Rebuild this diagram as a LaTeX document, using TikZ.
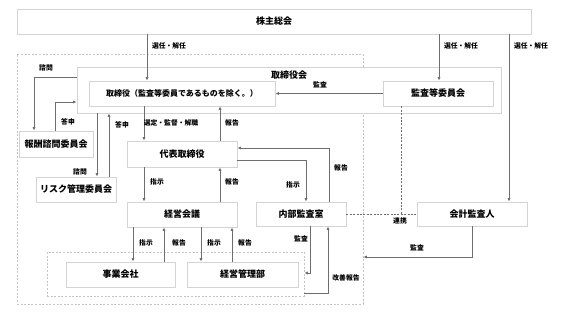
\documentclass[tikz,border=0pt]{standalone}
\usepackage{fontspec}
\setmainfont{Noto Sans CJK JP}
\usetikzlibrary{arrows.meta,calc}
\definecolor{boxgray}{HTML}{D4D4D4}
\definecolor{linegray}{HTML}{6E6E6E}
\definecolor{dashgray}{HTML}{C4C4C4}
\tikzset{
  box/.style={draw=boxgray, line width=0.9pt, fill=white, inner sep=0pt,
    font=\fontsize{9}{9}\selectfont\bfseries},
  dbox/.style={draw=dashgray, line width=0.8pt, dash pattern=on 2pt off 1.6pt, inner sep=0pt},
  lbl/.style={font=\fontsize{6.8}{7}\selectfont\bfseries, inner sep=0pt},
  arr/.style={draw=linegray, line width=0.8pt, -{Latex[length=3.4pt,width=3.2pt]}},
  dline/.style={draw=linegray, line width=0.8pt, dash pattern=on 2pt off 1.4pt},
}
\begin{document}
\begin{tikzpicture}[x=1pt,y=-1pt]
\useasboundingbox[fill=white] (0,0) rectangle (573,312);
% helper coordinates
\foreach \n/\v in {c34/34,c55/55,c97/97,c109/109,c133/133,c144/144,c147/147,c164/164,c201/201,c220/220,c232/232,c306/306,c310/310,c328/328,c329/329,c401/401,c439/439,c509/509}
  {\coordinate (\n) at (\v,0);}
\foreach \n/\v in {r77/77,r102/102,r148/148,r160/160,r257/257,r273/273,r293/293}
  {\coordinate (\n) at (0,\v);}

% frames
\node[box, minimum width=514pt, minimum height=25pt] (kabu) at (274,21.5) {株主総会};
\node[dbox, minimum width=346pt, minimum height=250pt] (outer) at (190,179) {};
\node[box, minimum width=424pt, minimum height=46pt] (torikai) at (289,90) {};
\node[font=\fontsize{9}{9}\selectfont\bfseries, inner sep=0pt] (torikaiT) at (289,75) {取締役会};
\node[dbox, minimum width=257pt, minimum height=44pt] (inner) at (175.5,274) {};

% boxes
\node[box, minimum width=186pt, minimum height=25pt, font=\fontsize{8}{8}\selectfont\bfseries] (tori) at (182,93.5) {取締役（監査等委員であるものを除く。）};
\node[box, minimum width=110pt, minimum height=25pt] (kansa) at (438,93.5) {監査等委員会};
\node[box, minimum width=74pt, minimum height=26pt] (houshu) at (56,144) {報酬諮問委員会};
\node[box, minimum width=80pt, minimum height=25pt] (risk) at (76,189.5) {リスク管理委員会};
\node[box, minimum width=110pt, minimum height=26pt] (daihyo) at (182,154) {代表取締役};
\node[box, minimum width=110pt, minimum height=25pt] (keiei) at (182,214.5) {経営会議};
\node[box, minimum width=90pt, minimum height=24pt] (naibu) at (301,214) {内部監査室};
\node[box, minimum width=110pt, minimum height=24pt] (kaikei) at (472,214) {会計監査人};
\node[box, minimum width=109pt, minimum height=25pt] (jigyo) at (120.5,274.5) {事業会社};
\node[box, minimum width=111pt, minimum height=25pt] (kanri) at (242.5,274.5) {経営管理部};

% shareholders
\draw[arr] (kabu.south -| c147) -- (tori.north -| c147);
\node[lbl] (l1) at (169,46) {選任・解任};
\draw[arr] (kabu.south -| c439) -- (kansa.north -| c439);
\node[lbl] (l2) at (461,46) {選任・解任};
\draw[arr] (kabu.south -| c509) -- (kaikei.north -| c509);
\node[lbl] (l3) at (531,46) {選任・解任};

% audit committee -> directors
\draw[arr] (kansa.west) -- (tori.east);
\node[lbl] (l4) at (320,85) {監査};

% compensation committee
\draw[arr] (torikai.west |- r77) -| (houshu.north -| c34);
\node[lbl] (l5) at (46,68) {諮問};
\draw[arr] (houshu.north -| c55) |- (torikai.west |- r102);
\node[lbl] (l6) at (68,122) {答申};

% risk committee
\draw[arr] (torikai.south -| c97) -- (risk.north -| c97);
\node[lbl] (l7) at (80,172) {諮問};
\draw[arr] (risk.north -| c109) -- (torikai.south -| c109);
\node[lbl] (l8) at (122,125) {答申};

% directors <-> representative
\draw[arr] (tori.south -| c144) -- (daihyo.north -| c144);
\node[lbl] (l9) at (171,123) {選定・監督・解職};
\draw[arr] (daihyo.north -| c220) -- (tori.south -| c220);
\node[lbl] (l10) at (232,123) {報告};

% representative <-> management meeting
\draw[arr] (daihyo.south -| c144) -- (keiei.north -| c144);
\node[lbl] (l11) at (157,182) {指示};
\draw[arr] (keiei.north -| c220) -- (daihyo.south -| c220);
\node[lbl] (l12) at (232,182) {報告};

% representative <-> internal audit
\draw[arr] (daihyo.east |- r160) -| (naibu.north -| c306);
\node[lbl] (l13) at (293,185) {指示};
\draw[arr] (naibu.north -| c329) |- (daihyo.east |- r148);
\node[lbl] (l14) at (341,168) {報告};

% management meeting <-> subsidiaries
\draw[arr] (keiei.south -| c133) -- (jigyo.north -| c133);
\node[lbl] (l15) at (146,243) {指示};
\draw[arr] (jigyo.north -| c164) -- (keiei.south -| c164);
\node[lbl] (l16) at (179,243) {報告};
\draw[arr] (keiei.south -| c201) -- (kanri.north -| c201);
\node[lbl] (l17) at (214,243) {指示};
\draw[arr] (kanri.north -| c232) -- (keiei.south -| c232);
\node[lbl] (l18) at (245,243) {報告};

% internal audit <-> group
\draw[arr] (naibu.south -| c310) |- (inner.east |- r273);
\node[lbl] (l19) at (301,239) {監査};
\draw[arr] (inner.east |- r293) -| (naibu.south -| c328);
\node[lbl] (l20) at (346,278) {改善報告};

% cooperation
\draw[dline] (kansa.south -| c401) -- (c401 |- naibu.east);
\draw[dline] (naibu.east) -- (kaikei.west);
\node[lbl] (l21) at (400,221) {連携};

% accounting auditor
\draw[arr] (kaikei.south) |- (outer.east |- r257);
\node[lbl] (l22) at (417,248) {監査};
\end{tikzpicture}
\end{document}
